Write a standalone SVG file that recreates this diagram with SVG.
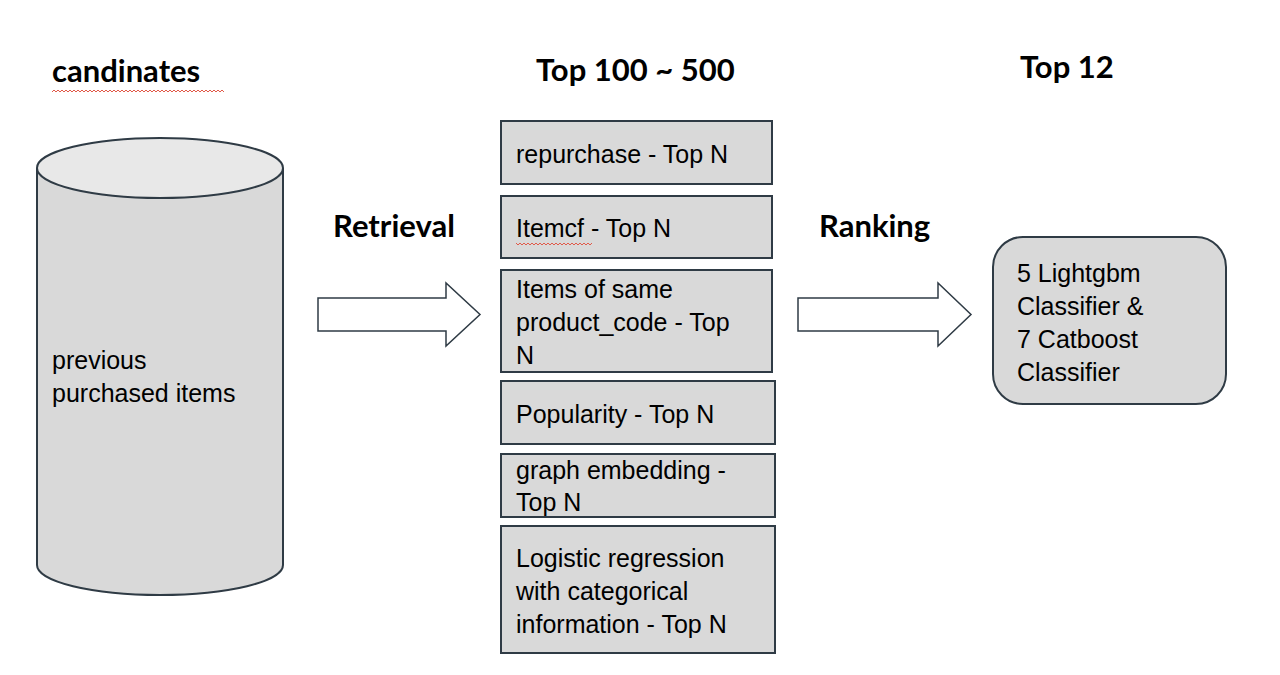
<svg xmlns="http://www.w3.org/2000/svg" width="1280" height="675" viewBox="0 0 1280 675">
<style>
.h{font-family:Lato,"Open Sans",sans-serif;font-weight:bold;font-size:31px;fill:#000}
.t{font-family:"Liberation Sans",Arial,sans-serif;font-size:25px;fill:#000}
.box{fill:#d9d9d9;stroke:#2f3b45;stroke-width:2}
.arr{fill:#fff;stroke:#2f3b45;stroke-width:1.5}
.sq{fill:none;stroke:#e05a4a;stroke-width:1}
</style>
<rect width="1280" height="675" fill="#fff"/>
<text class="h" x="52" y="82" font-size="34">candinates</text>
<path class="sq" d="M52 92 l2 -2 l2 2 l2 -2 l2 2 l2 -2 l2 2 l2 -2 l2 2 l2 -2 l2 2 l2 -2 l2 2 l2 -2 l2 2 l2 -2 l2 2 l2 -2 l2 2 l2 -2 l2 2 l2 -2 l2 2 l2 -2 l2 2 l2 -2 l2 2 l2 -2 l2 2 l2 -2 l2 2 l2 -2 l2 2 l2 -2 l2 2 l2 -2 l2 2 l2 -2 l2 2 l2 -2 l2 2 l2 -2 l2 2 l2 -2 l2 2 l2 -2 l2 2 l2 -2 l2 2 l2 -2 l2 2 l2 -2 l2 2 l2 -2 l2 2 l2 -2 l2 2 l2 -2 l2 2 l2 -2 l2 2 l2 -2 l2 2 l2 -2 l2 2 l2 -2 l2 2 l2 -2 l2 2 l2 -2 l2 2 l2 -2 l2 2 l2 -2 l2 2 l2 -2 l2 2 l2 -2 l2 2 l2 -2 l2 2 l2 -2 l2 2 l2 -2 l2 2 l2 -2 l2 2"/>
<text class="h" x="536" y="81">Top 100  ~ 500</text>
<text class="h" x="1020" y="78">Top 12</text>
<text class="h" x="333" y="237" font-size="27">Retrieval</text>
<text class="h" x="819" y="237" font-size="27">Ranking</text>
<g id="candidates">
<path d="M37 168 L37 565 A123 30 0 0 0 283 565 L283 168" fill="#d9d9d9" stroke="#2f3b45" stroke-width="2"/>
<ellipse cx="160" cy="168" rx="123" ry="30" fill="#e8e8e8" stroke="#2f3b45" stroke-width="2"/>
<text class="t" x="52" y="369">previous</text>
<text class="t" x="52" y="402">purchased items</text>
</g>
<g id="connectors">
<path class="arr" d="M318 298 L446 298 L446 283 L480 314.5 L446 346 L446 331 L318 331 Z"/>
<path class="arr" d="M798 298 L938 298 L938 283 L971 314.5 L938 346 L938 331 L798 331 Z"/>
</g>
<g id="n1"><rect class="box" x="501" y="121" width="271" height="63"/><text class="t" x="516" y="163">repurchase - Top N</text></g>
<g id="n2"><rect class="box" x="501" y="196" width="271" height="62"/><text class="t" x="516" y="237">Itemcf - Top N</text>
<path class="sq" d="M516 243 l2 2 l2 -2 l2 2 l2 -2 l2 2 l2 -2 l2 2 l2 -2 l2 2 l2 -2 l2 2 l2 -2 l2 2 l2 -2 l2 2 l2 -2 l2 2 l2 -2 l2 2 l2 -2 l2 2 l2 -2 l2 2 l2 -2 l2 2 l2 -2 l2 2 l2 -2 l2 2 l2 -2 l2 2 l2 -2 l2 2 l2 -2 l2 2 l2 -2 l2 2 l2 -2"/></g>
<g id="n3"><rect class="box" x="501" y="270" width="271" height="102"/><text class="t" x="516" y="298">Items of same</text><text class="t" x="516" y="331">product_code - Top</text><text class="t" x="516" y="364">N</text></g>
<g id="n4"><rect class="box" x="501" y="381" width="274" height="63"/><text class="t" x="516" y="423">Popularity - Top N</text></g>
<g id="n5"><rect class="box" x="501" y="454" width="274" height="63"/><text class="t" x="516" y="479">graph embedding -</text><text class="t" x="516" y="511">Top N</text></g>
<g id="n6"><rect class="box" x="501" y="526" width="274" height="127"/><text class="t" x="516" y="567">Logistic regression</text><text class="t" x="516" y="600">with categorical</text><text class="t" x="516" y="633">information - Top N</text></g>
<g id="rank"><rect class="box" x="993" y="237" width="233" height="167" rx="30"/><text class="t" x="1017" y="282">5 Lightgbm</text><text class="t" x="1017" y="315">Classifier &amp;</text><text class="t" x="1017" y="348">7 Catboost</text><text class="t" x="1017" y="381">Classifier</text></g>
</svg>
